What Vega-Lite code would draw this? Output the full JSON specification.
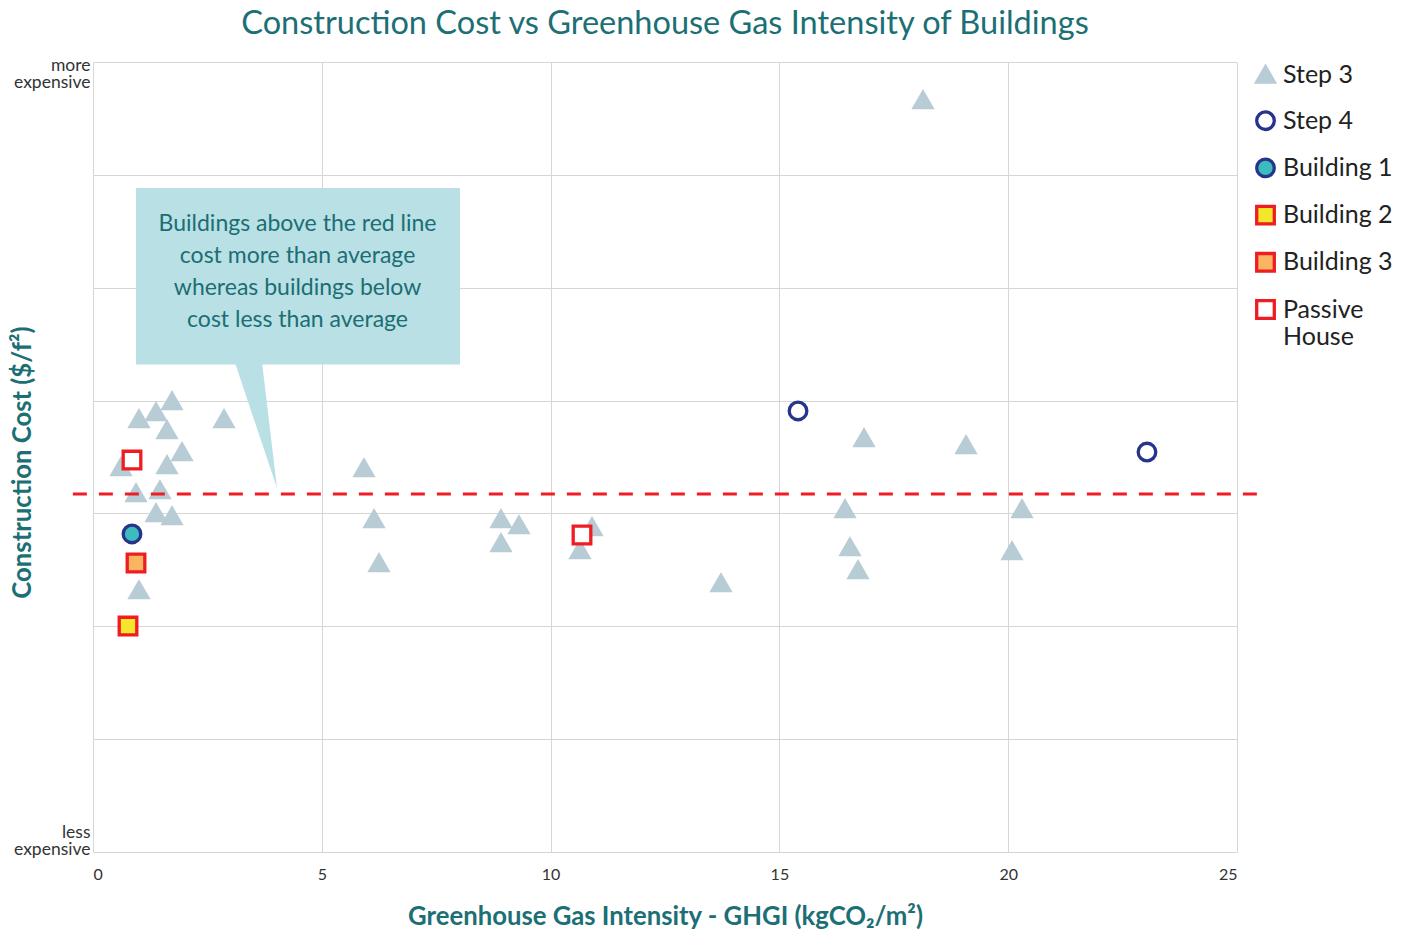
{
  "$schema": "https://vega.github.io/schema/vega-lite/v6.json",
  "width": 1144,
  "height": 790,
  "autosize": {"type": "none"},
  "padding": {"left": 93, "top": 62, "right": 174, "bottom": 80},
  "background": "white",
  "config": {
    "font": "Lato",
    "view": {"stroke": null},
    "title": {"font": "Lato"},
    "axis": {"labelFont": "Lato", "titleFont": "Lato"},
    "legend": {"labelFont": "Lato"}
  },
  "title": {
    "text": "Construction Cost vs Greenhouse Gas Intensity of Buildings",
    "fontSize": 32.5,
    "fontWeight": "normal",
    "color": "#1b6f75",
    "anchor": "middle",
    "offset": 16
  },
  "datasets": {
    "points": [
      {"series": "Step 3", "x": 1.726, "y": 3.996},
      {"series": "Step 3", "x": 1.377, "y": 3.899},
      {"series": "Step 3", "x": 1.005, "y": 3.837},
      {"series": "Step 3", "x": 2.863, "y": 3.837},
      {"series": "Step 3", "x": 1.617, "y": 3.739},
      {"series": "Step 3", "x": 1.945, "y": 3.544},
      {"series": "Step 3", "x": 1.617, "y": 3.429},
      {"series": "Step 3", "x": 0.612, "y": 3.411},
      {"series": "Step 3", "x": 0.94, "y": 3.181},
      {"series": "Step 3", "x": 1.464, "y": 3.207},
      {"series": "Step 3", "x": 1.377, "y": 3.004},
      {"series": "Step 3", "x": 1.726, "y": 2.977},
      {"series": "Step 3", "x": 1.005, "y": 2.321},
      {"series": "Step 3", "x": 5.922, "y": 3.402},
      {"series": "Step 3", "x": 6.141, "y": 2.951},
      {"series": "Step 3", "x": 6.25, "y": 2.561},
      {"series": "Step 3", "x": 8.916, "y": 2.951},
      {"series": "Step 3", "x": 9.31, "y": 2.897},
      {"series": "Step 3", "x": 8.916, "y": 2.738},
      {"series": "Step 3", "x": 10.905, "y": 2.88},
      {"series": "Step 3", "x": 10.642, "y": 2.676},
      {"series": "Step 3", "x": 16.849, "y": 3.668},
      {"series": "Step 3", "x": 19.078, "y": 3.606},
      {"series": "Step 3", "x": 16.434, "y": 3.039},
      {"series": "Step 3", "x": 20.302, "y": 3.039},
      {"series": "Step 3", "x": 16.543, "y": 2.702},
      {"series": "Step 3", "x": 20.083, "y": 2.667},
      {"series": "Step 3", "x": 16.718, "y": 2.499},
      {"series": "Step 3", "x": 13.724, "y": 2.383},
      {"series": "Step 3", "x": 18.138, "y": 6.663},
      {"series": "Step 4", "x": 15.407, "y": 3.908},
      {"series": "Step 4", "x": 23.033, "y": 3.544},
      {"series": "Building 1", "x": 0.852, "y": 2.818},
      {"series": "Building 2", "x": 0.765, "y": 2.002},
      {"series": "Building 3", "x": 0.94, "y": 2.561},
      {"series": "Passive House", "x": 0.852, "y": 3.473},
      {"series": "Passive House", "x": 10.686, "y": 2.809}
    ],
    "avgline": [{"x": -0.44, "x2": 25.61, "y": 3.172}],
    "box": [{"x": 0.94, "x2": 8.02, "y": 5.883, "y2": 4.32}],
    "pointer": [
      {"y": 4.35, "x": 3.09, "x2": 3.69},
      {"y": 3.225, "x": 4.021, "x2": 4.021}
    ],
    "note": [{"x": 4.47, "y": 5.564, "label": "Buildings above the red line\ncost more than average\nwhereas buildings below\ncost less than average"}]
  },
  "encoding": {
    "x": {
      "field": "x", "type": "quantitative",
      "scale": {"domain": [0, 25], "nice": false, "zero": false},
      "axis": {
        "values": [0, 5, 10, 15, 20, 25],
        "labelFontSize": 16, "labelColor": "#333333", "labelPadding": 14,
        "ticks": false, "domain": false, "gridColor": "#d6d6d6", "labelFlush": true,
        "title": "Greenhouse Gas Intensity - GHGI (kgCO₂/m²)",
        "titleFontSize": 25.7, "titleFontWeight": "bold", "titleColor": "#1b6f75", "titlePadding": 22
      }
    },
    "y": {
      "field": "y", "type": "quantitative",
      "scale": {"domain": [0, 7], "nice": false, "zero": false},
      "axis": {
        "values": [0, 1, 2, 3, 4, 5, 6, 7],
        "labelExpr": "datum.value == 7 ? ['more', 'expensive'] : datum.value == 0 ? ['less', 'expensive'] : ''",
        "labelFlush": true, "labelFontSize": 17.5, "labelColor": "#333333", "labelLineHeight": 17,
        "labelOffset": {"condition": {"test": "datum.value == 0", "value": -11}, "value": -6},
        "labelPadding": 3, "ticks": false, "domain": false, "gridColor": "#d6d6d6",
        "title": "Construction Cost ($/f²)",
        "titleFontSize": 25.7, "titleFontWeight": "bold", "titleColor": "#1b6f75",
        "titleX": -71, "titleY": 400, "titleBaseline": "middle", "titleAngle": -90, "titleAlign": "center"
      }
    }
  },
  "layer": [
    {
      "data": {"name": "box"},
      "mark": {"type": "rect", "color": "#b9e0e4"},
      "encoding": {
        "x2": {"field": "x2"},
        "y2": {"field": "y2"}
      }
    },
    {
      "data": {"name": "pointer"},
      "mark": {"type": "area", "orient": "horizontal", "color": "#b9e0e4"},
      "encoding": {
        "x2": {"field": "x2"}
      }
    },
    {
      "data": {"name": "note"},
      "mark": {"type": "text", "align": "center", "baseline": "middle", "fontSize": 23, "color": "#1b6e74", "lineHeight": 32, "lineBreak": "\n", "font": "Lato"},
      "encoding": {
        "text": {"field": "label", "type": "nominal"}
      }
    },
    {
      "data": {"name": "points"},
      "mark": {"type": "point", "filled": true, "size": 310, "strokeWidth": 3.3, "opacity": 1},
      "encoding": {
        "shape": {
          "field": "series", "type": "nominal",
          "scale": {
            "domain": ["Step 3", "Step 4", "Building 1", "Building 2", "Building 3", "Passive House"],
            "range": ["triangle-up", "circle", "circle", "square", "square", "square"]
          },
          "legend": {
            "title": null, "orient": "right", "offset": 16, "padding": 0,
            "labelFontSize": 25, "labelColor": "#222222", "labelOffset": 5,
            "rowPadding": 16.2, "symbolSize": 310, "symbolStrokeWidth": 3.3,
            "labelExpr": "datum.label == 'Passive House' ? ['Passive', 'House'] : datum.label"
          }
        },
        "fill": {
          "field": "series", "type": "nominal",
          "scale": {
            "domain": ["Step 3", "Step 4", "Building 1", "Building 2", "Building 3", "Passive House"],
            "range": ["#b8ccd5", "#ffffff", "#3bbdc0", "#f6e62b", "#fbb45f", "#ffffff"]
          }
        },
        "stroke": {
          "field": "series", "type": "nominal",
          "scale": {
            "domain": ["Step 3", "Step 4", "Building 1", "Building 2", "Building 3", "Passive House"],
            "range": ["#b8ccd5", "#27348b", "#27348b", "#ee1d23", "#ee1d23", "#ee1d23"]
          }
        }
      }
    },
    {
      "data": {"name": "avgline"},
      "mark": {"type": "rule", "color": "#ee1d23", "strokeWidth": 3, "strokeDash": [14, 12]},
      "encoding": {
        "x2": {"field": "x2"}
      }
    }
  ]
}
